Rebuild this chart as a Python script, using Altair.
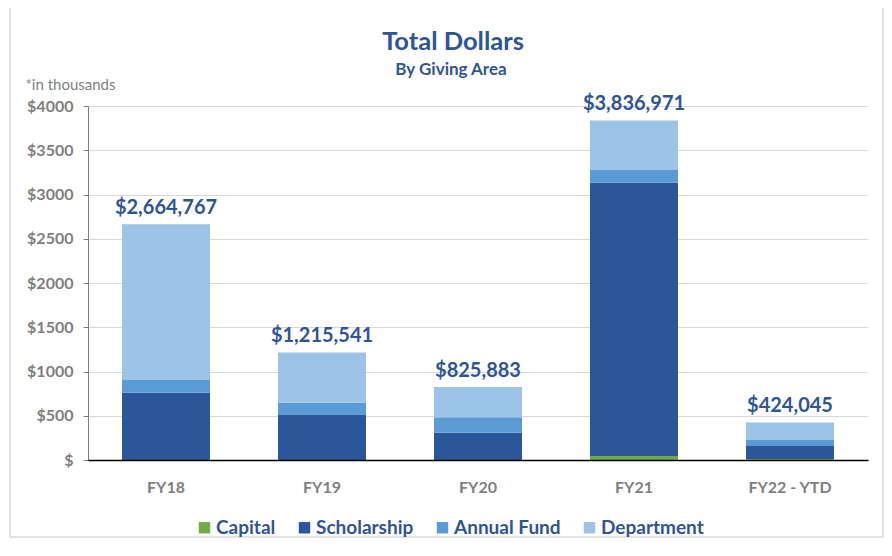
import altair as alt
import pandas as pd

years = ["FY18", "FY19", "FY20", "FY21", "FY22 - YTD"]
areas = ["Capital", "Scholarship", "Annual Fund", "Department"]
capital = [0, 0, 0, 45, 12]
scholarship = [760, 508, 309, 3089, 146]
annual_fund = [145, 140, 173, 143, 68]
department = [1759.8, 567.5, 343.9, 560, 198]
totals = [2664.767, 1215.541, 825.883, 3836.971, 424.045]
total_labels = ["$2,664,767", "$1,215,541", "$825,883", "$3,836,971", "$424,045"]
y_ticks = [0, 500, 1000, 1500, 2000, 2500, 3000, 3500, 4000]
colors = ["#70AD47", "#2B579A", "#5B9BD5", "#9DC3E6"]
title_text = "Total Dollars"
subtitle_text = "By Giving Area"

FONT = "Lato"
BLUE = "#2F5597"
GRAY = "#7F7F7F"

series = [capital, scholarship, annual_fund, department]
rows = []
for i, area in enumerate(areas):
    for j, yr in enumerate(years):
        rows.append({"year": yr, "area": area, "value": series[i][j], "idx": i})
df = pd.DataFrame(rows)
labels_df = pd.DataFrame({"year": years, "total": totals, "label": total_labels})

x_enc = alt.X(
    "year:N",
    sort=years,
    scale=alt.Scale(paddingInner=0.436, paddingOuter=0.218),
    axis=alt.Axis(
        title=None, labelFont=FONT, labelFontSize=16, labelFontWeight="bold",
        labelColor=GRAY, ticks=False, domainColor="#000000", domainWidth=1.5,
        labelPadding=19, labelAngle=0, zindex=1,
    ),
)

bars = alt.Chart(df).mark_bar().encode(
    x=x_enc,
    y=alt.Y(
        "value:Q",
        stack="zero",
        scale=alt.Scale(domain=[0, 4000], nice=False),
        axis=alt.Axis(
            values=y_ticks,
            labelExpr="datum.value == 0 ? '$' : '$' + datum.value",
            title="*in thousands", titleAngle=0, titleX=-63, titleY=-22,
            titleAlign="left", titleBaseline="middle", titleFont=FONT,
            titleFontWeight="normal", titleFontSize=15, titleColor=GRAY,
            grid=True, gridColor="#D9D9D9", tickSize=5, tickColor=GRAY,
            domainColor=GRAY, labelPadding=10, labelFont=FONT,
            labelFontSize=16, labelFontWeight="bold", labelColor=GRAY,
        ),
    ),
    color=alt.Color(
        "area:N",
        scale=alt.Scale(domain=areas, range=colors),
        legend=alt.Legend(
            title=None, orient="none", legendX=107, legendY=412,
            direction="horizontal", symbolType="square", symbolSize=130,
            symbolStrokeWidth=0, labelFont=FONT, labelFontSize=19,
            labelFontWeight="bold", labelColor=BLUE, columnPadding=19,
            labelOffset=2,
        ),
    ),
    order=alt.Order("idx:Q"),
)

text = alt.Chart(labels_df).mark_text(
    font=FONT, fontSize=20, fontWeight="bold", color=BLUE,
    baseline="alphabetic", dy=-10,
).encode(
    x=alt.X("year:N", sort=years),
    y=alt.Y("total:Q"),
    text="label:N",
)

titles_df = pd.DataFrame({"t": [title_text]})
title_mark = alt.Chart(titles_df).mark_text(
    font=FONT, fontSize=25.5, fontWeight="bold", color=BLUE,
    baseline="alphabetic", align="center",
).encode(x=alt.value(365), y=alt.value(-56), text="t:N")

sub_df = pd.DataFrame({"t": [subtitle_text]})
subtitle_mark = alt.Chart(sub_df).mark_text(
    font=FONT, fontSize=17, fontWeight="bold", color=BLUE,
    baseline="alphabetic", align="center",
).encode(x=alt.value(363), y=alt.value(-31), text="t:N")

frame = alt.Chart(pd.DataFrame({"a": [0]})).mark_rect(
    fill=None, stroke="#D9D9D9", strokeWidth=1.5
).encode(
    x=alt.value(-78), x2=alt.value(795), y=alt.value(-99), y2=alt.value(431)
)

chart = alt.layer(frame, bars, text, title_mark, subtitle_mark).properties(
    width=780,
    height=354,
    autosize=alt.AutoSizeParams(type="none"),
    padding={"left": 80, "top": 98, "right": 16, "bottom": 78},
).configure_view(stroke=None)

chart.save("out.html", embed_options={"renderer": "svg", "actions": False})
